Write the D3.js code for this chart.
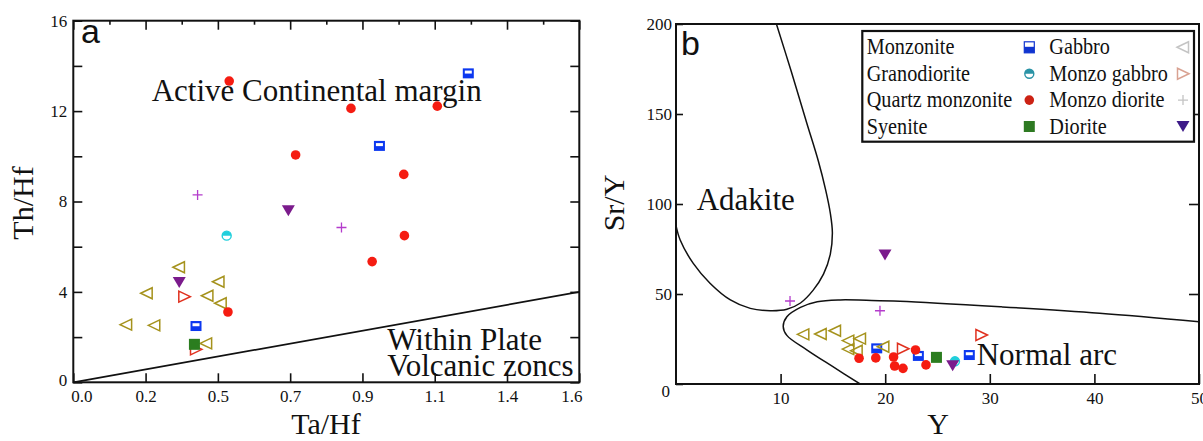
<!DOCTYPE html>
<html lang="en">
<head>
<meta charset="UTF-8">
<title>Th/Hf - Ta/Hf and Sr/Y - Y</title>
<script src="https://d3js.org/d3.v7.min.js"></script>
<style>
  body { margin: 0; background: #fff; }
  svg text { font-family: "Liberation Serif", "Times New Roman", serif; fill: #111; }
  .panel-letter { font-family: "Liberation Sans", Arial, sans-serif !important; font-size: 34px; }
  .field { font-size: 31px; }
  .axis-title { font-size: 30px; }
</style>
</head>
<body>
<div id="chart"></div>
<script>
// ---- panel a : Th/Hf vs Ta/Hf ----
const aXTicks = [0, 1, 2, 3, 4, 5, 6, 7].map(i => 1.6 * i / 7);
const aXLabels = ["0.0", "0.2", "0.5", "0.7", "0.9", "1.1", "1.4", "1.6"];
const aYTicks = [0, 2, 4, 6, 8, 10, 12, 14, 16];
const aYLabels = ["0", "", "4", "", "8", "", "12", "", "16"];
const aBoundary = [[0, 0], [1.6, 4]];

const aMonzonite = [[0.388, 2.49], [0.968, 10.46], [1.249, 13.67]];
const aGranodiorite = [[0.485, 6.49]];
const aQtzMonzonite = [[0.493, 13.33], [0.878, 12.12], [1.151, 12.22], [0.703, 10.06], [1.045, 9.20], [1.047, 6.49], [0.945, 5.34], [0.489, 3.11]];
const aSyenite = [[0.383, 1.68]];
const aGabbro = [[0.334, 5.09], [0.459, 4.45], [0.232, 3.94], [0.424, 3.83], [0.466, 3.50], [0.167, 2.55], [0.256, 2.52], [0.420, 1.72]];
const aMonzoGabbro = [[0.351, 3.79], [0.388, 1.46]];
const aMonzoDiorite = [[0.393, 8.29], [0.848, 6.85]];
const aDiorite = [[0.680, 7.59], [0.335, 4.42]];

// ---- panel b : Sr/Y vs Y ----
const bXTicks = [10, 20, 30, 40, 50];
const bYTicks = [0, 50, 100, 150, 200];
const adakiteLine = [[9.6, 200], [11.0, 174], [12.5, 145], [13.6, 124], [14.3, 108], [14.75, 95], [14.95, 84], [14.75, 72], [14.1, 61], [13.1, 52], [11.9, 45], [10.6, 41.5], [9.0, 40.7], [7.1, 42], [5.2, 46.7], [3.25, 56], [1.65, 67], [0.4, 80], [0, 88]];
const normalArcLine = [[17.6, 0], [15.0, 9.6], [12.5, 19], [10.6, 27], [10.25, 32], [10.6, 37.4], [11.9, 42.6], [13.5, 45.7], [15.7, 46.7], [18.2, 46.5], [21.4, 46], [31, 42.9], [40.5, 39.3], [50, 34.6]];

const bMonzonite = [[19.19, 19.8], [23.17, 15.6], [28.04, 16.1]];
const bGranodiorite = [[26.67, 12.6]];
const bQtzMonzonite = [[17.5, 14.3], [19.1, 14.5], [20.8, 15.0], [20.9, 10.0], [21.7, 8.7], [22.9, 18.9], [23.9, 10.6]];
const bSyenite = [[24.9, 14.8]];
const bGabbro = [[12.17, 27.6], [13.83, 27.8], [15.2, 29.6], [16.47, 24.1], [17.59, 25.2], [16.47, 19.4], [17.27, 18.5], [19.82, 20.7]];
const bMonzoGabbro = [[21.7, 19.6], [29.2, 27.2]];
const bMonzoDiorite = [[10.9, 46.1], [19.5, 40.7]];
const bDiorite = [[19.98, 71.7], [26.45, 10.2]];

const legendLeft = ["Monzonite", "Granodiorite", "Quartz monzonite", "Syenite"];
const legendRight = ["Gabbro", "Monzo gabbro", "Monzo diorite", "Diorite"];

// symbol look per rock type (plot colours)
const styles = {
    monzonite: { shape: "halfSquare", color: "#0c38f0" },
    granodiorite: { shape: "halfCircle", color: "#20cfdc" },
    qtz: { shape: "circle", color: "#f51c12" },
    syenite: { shape: "square", color: "#2b7d1f" },
    gabbro: { shape: "triLeft", color: "#a5921c" },
    monzogabbro: { shape: "triRight", color: "#e0301e" },
    monzodiorite: { shape: "plus", color: "#b43ccc" },
    diorite: { shape: "triDown", color: "#7b1b8c" }
};
// legend uses slightly different colours
const legendStyles = [
    { shape: "legendSquare", color: "#1034d0" },
    { shape: "legendCircle", color: "#2a93a6" },
    { shape: "circle", color: "#cc2214" },
    { shape: "square", color: "#2e7a22" },
    { shape: "triLeft", color: "#c4c4c4" },
    { shape: "triRight", color: "#d9a292" },
    { shape: "plus", color: "#c4c4c4" },
    { shape: "triDown", color: "#3d1a88" }
];

const svg = d3.select("#chart").append("svg")
    .attr("width", 1203)
    .attr("height", 441);

svg.append("rect").attr("width", 1203).attr("height", 441).attr("fill", "#fff");

function drawShape(g, shape, color, x, y) {
    if (shape === "circle") {
        g.append("circle").attr("cx", x).attr("cy", y).attr("r", 4.8).attr("fill", color);
    } else if (shape === "square") {
        g.append("rect").attr("x", x - 5.5).attr("y", y - 5.5).attr("width", 11).attr("height", 11).attr("fill", color);
    } else if (shape === "halfSquare") {
        g.append("rect").attr("x", x - 5.5).attr("y", y - 5).attr("width", 11).attr("height", 10).attr("fill", color);
        g.append("rect").attr("x", x - 3.5).attr("y", y - 2.8).attr("width", 7).attr("height", 3).attr("fill", "#fff");
    } else if (shape === "legendSquare") {
        g.append("rect").attr("x", x - 5).attr("y", y - 5.5).attr("width", 10).attr("height", 11)
            .attr("fill", "#fff").attr("stroke", color).attr("stroke-width", 1.2);
        g.append("rect").attr("x", x - 5).attr("y", y - 0.5).attr("width", 10).attr("height", 6).attr("fill", color);
    } else if (shape === "halfCircle" || shape === "legendCircle") {
        const r = 4.5;
        g.append("circle").attr("cx", x).attr("cy", y).attr("r", r)
            .attr("fill", "#fff").attr("stroke", color).attr("stroke-width", 1.4);
        g.append("path")
            .attr("d", `M${x - r},${y} A${r},${r} 0 0 1 ${x + r},${y} Z`)
            .attr("fill", color);
    } else if (shape === "triLeft") {
        g.append("path").attr("d", `M${x - 6},${y} L${x + 5.5},${y - 5.5} L${x + 5.5},${y + 5.5} Z`)
            .attr("fill", "none").attr("stroke", color).attr("stroke-width", 1.5);
    } else if (shape === "triRight") {
        g.append("path").attr("d", `M${x + 6},${y} L${x - 5.5},${y - 5.5} L${x - 5.5},${y + 5.5} Z`)
            .attr("fill", "none").attr("stroke", color).attr("stroke-width", 1.5);
    } else if (shape === "triDown") {
        g.append("path").attr("d", `M${x - 6.5},${y - 5.5} L${x + 6.5},${y - 5.5} L${x},${y + 5.5} Z`)
            .attr("fill", color);
    } else if (shape === "plus") {
        g.append("path").attr("d", `M${x - 5},${y} H${x + 5} M${x},${y - 5} V${y + 5}`)
            .attr("stroke", color).attr("stroke-width", 1.3).attr("fill", "none");
    }
}

function drawSeries(g, data, style, x, y) {
    data.forEach(d => drawShape(g, style.shape, style.color, x(d[0]), y(d[1])));
}

function frame(g, x, y) {
    const [x0, x1] = x.range();
    const [y0, y1] = y.range();
    g.append("rect")
        .attr("x", x0).attr("y", y1)
        .attr("width", x1 - x0).attr("height", y0 - y1)
        .attr("fill", "none").attr("stroke", "#111").attr("stroke-width", 2);
}

function cleanAxis(sel) {
    sel.select(".domain").remove();
    sel.selectAll(".tick line").attr("stroke", "#111").attr("stroke-width", 1.6);
    sel.selectAll(".tick text")
        .style("font-family", "'Liberation Serif', 'Times New Roman', serif")
        .style("font-size", "17px")
        .style("fill", "#111");
}

// =============== panel a ===============
const xA = d3.scaleLinear().domain([0, 1.6]).range([73.3, 579.3]);
const yA = d3.scaleLinear().domain([0, 16]).range([382.3, 20.7]);
const gA = svg.append("g");

gA.append("g").attr("transform", `translate(0,${yA(0)})`)
    .call(d3.axisBottom(xA).tickValues(aXTicks).tickSize(-9).tickSizeOuter(0).tickPadding(8)
        .tickFormat((d, i) => aXLabels[i]))
    .call(cleanAxis)
    .call(s => {
        s.selectAll(".tick text").filter((d, i) => i === 0).attr("dx", 8);
        s.selectAll(".tick text").filter((d, i) => i === aXTicks.length - 1).attr("dx", -8);
    });

gA.append("g").attr("transform", `translate(0,${yA(16)})`)
    .call(d3.axisTop(xA).tickValues(aXTicks).tickSize(-9).tickSizeOuter(0).tickFormat(""))
    .call(cleanAxis);
gA.append("g").attr("transform", `translate(0,${yA(16)})`)
    .call(d3.axisTop(xA).tickValues(aXTicks.slice(1).map((t, i) => (t + aXTicks[i]) / 2))
        .tickSize(-4).tickSizeOuter(0).tickFormat(""))
    .call(cleanAxis);

gA.append("g").attr("transform", `translate(${xA(0)},0)`)
    .call(d3.axisLeft(yA).tickValues(aYTicks).tickSize(-9).tickSizeOuter(0).tickPadding(6)
        .tickFormat((d, i) => aYLabels[i]))
    .call(cleanAxis)
    .call(s => s.selectAll(".tick text").filter(d => d === 0).attr("dy", "0.2em"));

gA.append("g").attr("transform", `translate(${xA(1.6)},0)`)
    .call(d3.axisRight(yA).tickValues(aYTicks).tickSize(-9).tickSizeOuter(0).tickFormat(""))
    .call(cleanAxis);

frame(gA, xA, yA);

gA.append("path")
    .attr("d", d3.line().x(d => xA(d[0])).y(d => yA(d[1]))(aBoundary))
    .attr("fill", "none").attr("stroke", "#111").attr("stroke-width", 1.7);

gA.append("text").attr("class", "field").attr("x", 151.7).attr("y", 101).text("Active Continental margin");
gA.append("text").attr("class", "field").attr("x", 387.3).attr("y", 350).text("Within Plate");
gA.append("text").attr("class", "field").attr("x", 387.3).attr("y", 375.7).text("Volcanic zoncs");

drawSeries(gA, aMonzoGabbro, styles.monzogabbro, xA, yA);
drawSeries(gA, aGranodiorite, styles.granodiorite, xA, yA);
drawSeries(gA, aMonzonite, styles.monzonite, xA, yA);
drawSeries(gA, aGabbro, styles.gabbro, xA, yA);
drawSeries(gA, aQtzMonzonite, styles.qtz, xA, yA);
drawSeries(gA, aSyenite, styles.syenite, xA, yA);
drawSeries(gA, aMonzoDiorite, styles.monzodiorite, xA, yA);
drawSeries(gA, aDiorite, styles.diorite, xA, yA);

gA.append("text").attr("class", "panel-letter").attr("x", 81).attr("y", 43).text("a");
gA.append("text").attr("class", "axis-title").attr("x", 326).attr("y", 434)
    .attr("text-anchor", "middle").text("Ta/Hf");
gA.append("text").attr("class", "axis-title")
    .attr("transform", "translate(33,203) rotate(-90)")
    .attr("text-anchor", "middle").text("Th/Hf");

// =============== panel b ===============
const xB = d3.scaleLinear().domain([0, 50]).range([676, 1199]);
const yB = d3.scaleLinear().domain([0, 200]).range([384, 24]);
const gB = svg.append("g");

svg.append("defs").append("clipPath").attr("id", "clipB")
    .append("rect").attr("x", 676).attr("y", 24).attr("width", 523).attr("height", 360);

gB.append("g").attr("transform", `translate(0,${yB(0)})`)
    .call(d3.axisBottom(xB).tickValues(bXTicks).tickSize(-10).tickSizeOuter(0).tickPadding(8))
    .call(cleanAxis);

gB.append("g").attr("transform", `translate(${xB(0)},0)`)
    .call(d3.axisLeft(yB).tickValues(bYTicks).tickSize(-7).tickSizeOuter(0).tickPadding(4))
    .call(cleanAxis)
    .call(s => s.selectAll(".tick text").filter(d => d === 0).attr("dy", "0.75em").attr("dx", -2));

gB.append("g").attr("transform", `translate(${xB(50)},0)`)
    .call(d3.axisRight(yB).tickValues(bYTicks.slice(1, 4)).tickSize(-10).tickSizeOuter(0).tickFormat(""))
    .call(cleanAxis);

frame(gB, xB, yB);

const curve = d3.line().x(d => xB(d[0])).y(d => yB(d[1])).curve(d3.curveCatmullRom.alpha(0.5));
gB.append("path").attr("d", curve(adakiteLine)).attr("clip-path", "url(#clipB)")
    .attr("fill", "none").attr("stroke", "#111").attr("stroke-width", 1.5);
gB.append("path").attr("d", curve(normalArcLine)).attr("clip-path", "url(#clipB)")
    .attr("fill", "none").attr("stroke", "#111").attr("stroke-width", 1.5);

gB.append("text").attr("class", "field").attr("x", 696.7).attr("y", 210).text("Adakite");
gB.append("text").attr("class", "field").attr("x", 976.7).attr("y", 365).text("Normal arc");

drawSeries(gB, bMonzoGabbro, styles.monzogabbro, xB, yB);
drawSeries(gB, bGranodiorite, styles.granodiorite, xB, yB);
drawSeries(gB, bMonzonite, styles.monzonite, xB, yB);
drawSeries(gB, bGabbro, styles.gabbro, xB, yB);
drawSeries(gB, bQtzMonzonite, styles.qtz, xB, yB);
drawSeries(gB, bSyenite, styles.syenite, xB, yB);
drawSeries(gB, bMonzoDiorite, styles.monzodiorite, xB, yB);
drawSeries(gB, bDiorite, styles.diorite, xB, yB);

gB.append("text").attr("class", "panel-letter").attr("x", 681).attr("y", 55).text("b");
gB.append("text").attr("class", "axis-title").attr("x", 938).attr("y", 434)
    .attr("text-anchor", "middle").text("Y");
gB.append("text").attr("class", "axis-title")
    .attr("transform", "translate(624,203) rotate(-90)")
    .attr("text-anchor", "middle").text("Sr/Y");

// legend
const leg = gB.append("g");
leg.append("rect").attr("x", 862.3).attr("y", 31).attr("width", 331.7).attr("height", 110.7)
    .attr("fill", "#fff").attr("stroke", "#111").attr("stroke-width", 2.2);
const rowY = i => 54.3 + i * 26.4;
legendLeft.forEach((name, i) => {
    leg.append("text").attr("transform", `translate(866.7,${rowY(i)}) scale(0.88,1)`)
        .style("font-size", "23px").text(name);
    drawShape(leg, legendStyles[i].shape, legendStyles[i].color, 1029.3, rowY(i) - 7);
});
legendRight.forEach((name, i) => {
    leg.append("text").attr("transform", `translate(1049.3,${rowY(i)}) scale(0.88,1)`)
        .style("font-size", "23px").text(name);
    drawShape(leg, legendStyles[i + 4].shape, legendStyles[i + 4].color, 1183, rowY(i) - 7);
});
</script>
</body>
</html>
